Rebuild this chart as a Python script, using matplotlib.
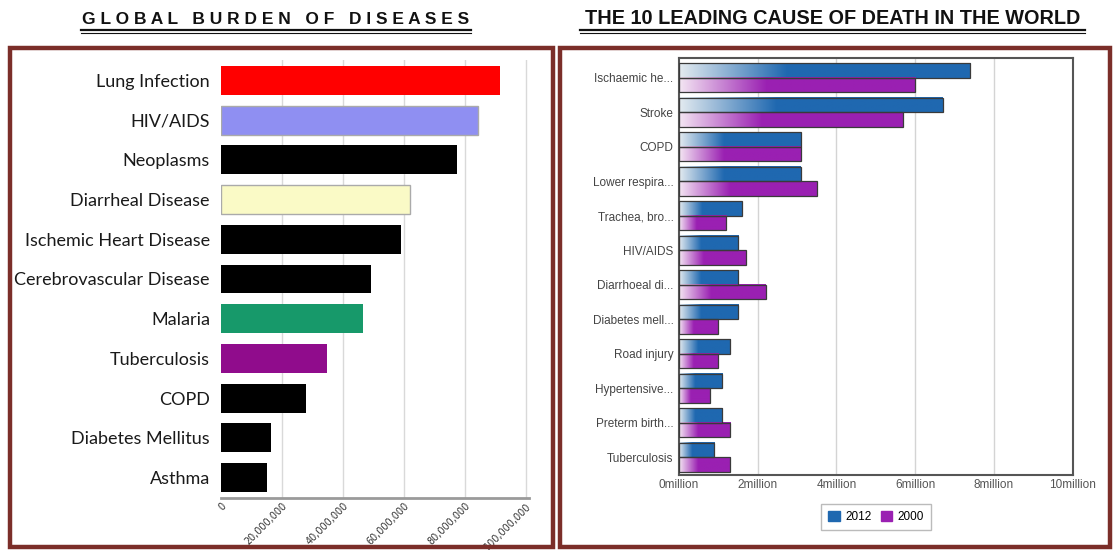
import numpy as np
import matplotlib
matplotlib.use("Agg")
import matplotlib.pyplot as plt
from matplotlib.patches import Rectangle, Patch
from matplotlib.lines import Line2D
from matplotlib.colors import to_rgb

# left chart: global burden of diseases
burden_labels = ["Lung Infection", "HIV/AIDS", "Neoplasms", "Diarrheal Disease",
                 "Ischemic Heart Disease", "Cerebrovascular Disease", "Malaria",
                 "Tuberculosis", "COPD", "Diabetes Mellitus", "Asthma"]
burden_values = [91.4e6, 84.4e6, 77.3e6, 62.0e6, 59.0e6, 49.2e6, 46.5e6,
                 34.7e6, 28.0e6, 16.3e6, 15.2e6]
burden_colors = ["#ff0000", "#8f8ff2", "#000000", "#fafac6", "#000000", "#000000",
                 "#17996a", "#900c8c", "#000000", "#000000", "#000000"]
burden_ticks = [0, 20e6, 40e6, 60e6, 80e6, 100e6]
burden_ticklabels = ["0", "20,000,000", "40,000,000", "60,000,000", "80,000,000", "100,000,000"]

# right chart: 10 leading causes of death (millions)
death_labels = ["Ischaemic he...", "Stroke", "COPD", "Lower respira...", "Trachea, bro...",
                "HIV/AIDS", "Diarrhoeal di...", "Diabetes mell...", "Road injury",
                "Hypertensive...", "Preterm birth...", "Tuberculosis"]
deaths_2012 = [7.4, 6.7, 3.1, 3.1, 1.6, 1.5, 1.5, 1.5, 1.3, 1.1, 1.1, 0.9]
deaths_2000 = [6.0, 5.7, 3.1, 3.5, 1.2, 1.7, 2.2, 1.0, 1.0, 0.8, 1.3, 1.3]
death_ticks = [0, 2, 4, 6, 8, 10]
death_ticklabels = ["0million", "2million", "4million", "6million", "8million", "10million"]

W, H = 1113, 550
fig = plt.figure(figsize=(W / 100, H / 100), dpi=100)
fig.patch.set_facecolor("white")


def fx(px):
    return px / W


def fy(py):
    return 1 - py / H


def double_underline(x0, x1):
    fig.add_artist(Line2D([fx(x0), fx(x1)], [fy(30), fy(30)], color="#111111", lw=1.6,
                          transform=fig.transFigure))
    fig.add_artist(Line2D([fx(x0), fx(x1)], [fy(33), fy(33)], color="#111111", lw=0.8,
                          transform=fig.transFigure))


# ---- titles ----
fig.text(fx(276), fy(19), "G L O B A L   B U R D E N   O F   D I S E A S E S",
         ha="center", va="center", fontsize=12.5, fontweight="bold",
         family="Liberation Sans", color="#111111")
double_underline(81, 471)

fig.text(fx(833), fy(19), "THE 10 LEADING CAUSE OF DEATH IN THE WORLD",
         ha="center", va="center", fontsize=14.3, fontweight="bold",
         family="Liberation Sans", color="#111111")
double_underline(580, 1085)

# ---- panel frames ----
for x0, x1 in [(10, 553), (560, 1110)]:
    fig.add_artist(Rectangle((fx(x0), fy(547)), fx(x1 - x0), (547 - 48) / H,
                             fill=False, edgecolor="#7b2e29", lw=3.2,
                             transform=fig.transFigure))

# ---- left chart ----
ax1 = fig.add_axes([fx(221), fy(498), fx(529 - 221), (498 - 60) / H])
y1 = np.arange(len(burden_labels))
for x in burden_ticks[1:]:
    ax1.axvline(x, color="#d9d9d9", lw=1, zorder=0)
ax1.barh(y1, burden_values, height=0.73, color=burden_colors,
         edgecolor=["none" if c in ("#ff0000", "#000000", "#17996a", "#900c8c") else "#aaaaaa"
                    for c in burden_colors], linewidth=1, zorder=2)
ax1.set_xlim(0, 101e6)
ax1.set_ylim(10.52, -0.52)
ax1.set_yticks(y1)
ax1.set_yticklabels(burden_labels, fontsize=13, family="Lato", color="#1a1a1a")
ax1.set_xticks(burden_ticks)
ax1.set_xticklabels(burden_ticklabels, rotation=45, ha="right", va="top",
                    rotation_mode="anchor", fontsize=6.9, color="#333333")
ax1.tick_params(axis="both", length=0)
ax1.tick_params(axis="y", pad=8)
ax1.tick_params(axis="x", pad=2)
for s in ["top", "right", "left"]:
    ax1.spines[s].set_visible(False)
ax1.spines["bottom"].set_color("#9a9a9a")
ax1.spines["bottom"].set_linewidth(2)

# ---- right chart ----
ax2 = fig.add_axes([fx(679), fy(475), fx(1072.5 - 679), (475 - 58) / H])
for x in death_ticks[1:-1]:
    ax2.axvline(x, color="#d4d4d4", lw=1, zorder=0)


def gradient_bar(ax, y_top, y_bot, value, color, light):
    c = np.array(to_rgb(color))
    l = np.array(to_rgb(light))
    t = np.linspace(0, 1, 256)
    k = np.clip(t / 0.37, 0, 1)[:, None]
    rgb = l + (c - l) * k
    ax.imshow(rgb[None, :, :], extent=(0, value, y_bot, y_top), aspect="auto",
              interpolation="bilinear", zorder=2)
    ax.add_patch(Rectangle((0, y_top), value, y_bot - y_top, fill=False,
                           edgecolor="#3a3a3a", lw=0.9, zorder=3))


bh = 0.42
blue, purple = "#1f68b0", "#9a20b2"
for i, (a, b) in enumerate(zip(deaths_2012, deaths_2000)):
    gradient_bar(ax2, i - bh, i, a, blue, "#e4ebf0")
    gradient_bar(ax2, i, i + bh, b, purple, "#f4e6f3")

ax2.set_xlim(0, 10)
ax2.set_ylim(11.52, -0.57)
ax2.set_yticks(np.arange(len(death_labels)))
ax2.set_yticklabels(death_labels, fontsize=8.5, family="Liberation Sans", color="#444444")
ax2.set_xticks(death_ticks)
ax2.set_xticklabels(death_ticklabels, fontsize=8.5, family="Liberation Sans", color="#555555")
ax2.tick_params(axis="both", length=0)
ax2.tick_params(axis="y", pad=4)
ax2.tick_params(axis="x", pad=3)
for s in ax2.spines.values():
    s.set_color("#555555")
    s.set_linewidth(1.5)

handles = [Patch(facecolor=blue, edgecolor=blue), Patch(facecolor=purple, edgecolor=purple)]
leg = fig.legend(handles, ["2012", "2000"], loc="center",
                 bbox_to_anchor=(fx(876), fy(517)), ncol=2,
                 frameon=True, fancybox=False, edgecolor="#aaaaaa",
                 handlelength=1.0, handleheight=0.9, handletextpad=0.4,
                 columnspacing=0.8, borderpad=0.6,
                 prop={"family": "Liberation Sans", "size": 8.5})
leg.get_frame().set_linewidth(1)

fig.savefig("out.png", dpi=100)
